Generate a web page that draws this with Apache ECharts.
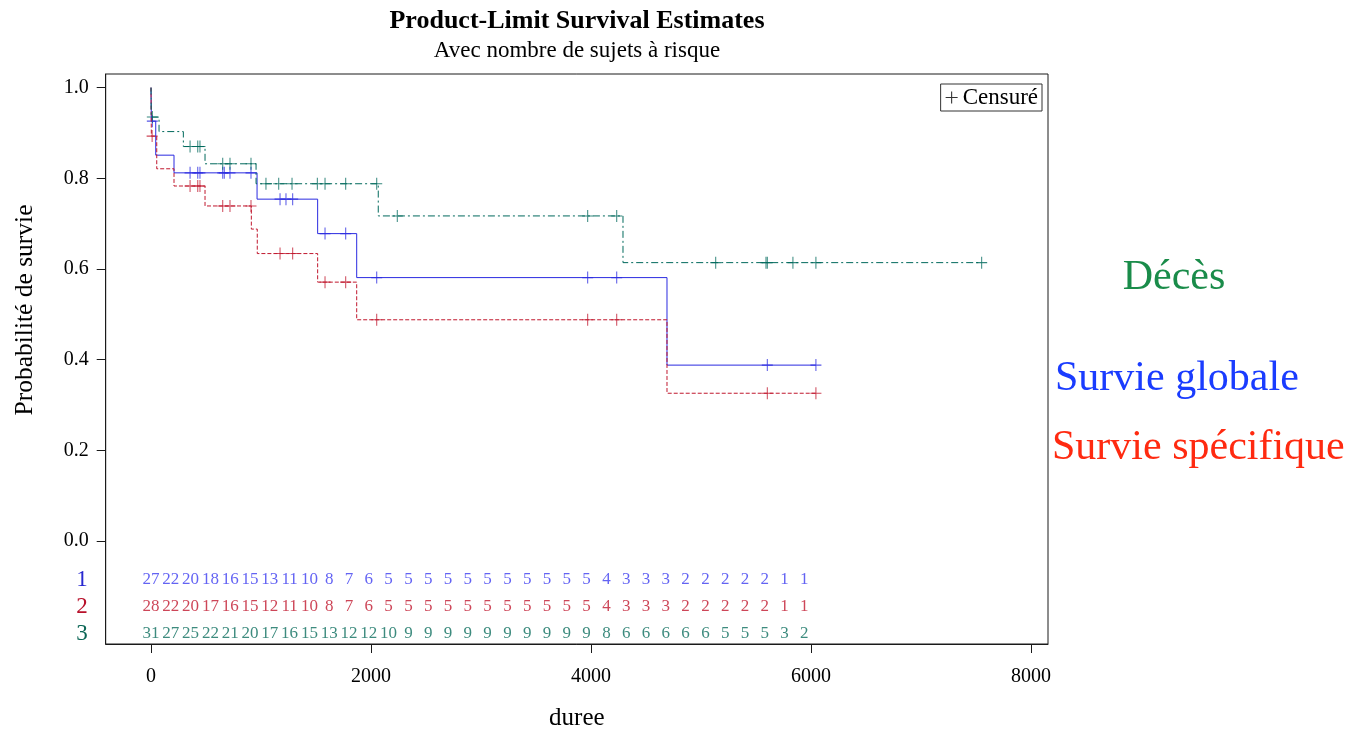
<!DOCTYPE html>
<html><head><meta charset="utf-8">
<script src="https://cdn.jsdelivr.net/npm/echarts@6/dist/echarts.min.js"></script>
<style>html,body{margin:0;padding:0;background:#fff}#c{width:1365px;height:736px}</style>
</head><body><div id="c"></div>
<script>
// ---- data ----
const xTicks = [0, 2000, 4000, 6000, 8000];
const yTicks = [0, 0.2, 0.4, 0.6, 0.8, 1.0];
const groupLabels = ['1', '2', '3'];
const riskTimes = [0,180,360,540,720,900,1080,1260,1440,1620,1800,1980,2160,2340,2520,2700,2880,3060,3240,3420,3600,3780,3960,4140,4320,4500,4680,4860,5040,5220,5400,5580,5760,5940];
const risk1 = [27,22,20,18,16,15,13,11,10,8,7,6,5,5,5,5,5,5,5,5,5,5,5,4,3,3,3,2,2,2,2,2,1,1];
const risk2 = [28,22,20,17,16,15,12,11,10,8,7,6,5,5,5,5,5,5,5,5,5,5,5,4,3,3,3,2,2,2,2,2,1,1];
const risk3 = [31,27,25,22,21,20,17,16,15,13,12,12,10,9,9,9,9,9,9,9,9,9,9,8,6,6,6,6,6,5,5,5,3,2];

// Survie globale (group 1)
const globaleTimes = [0, 3, 43, 209, 964, 1515, 1870, 4691, 6045];
const globaleSurv  = [1, 0.926, 0.851, 0.812, 0.754, 0.678, 0.581, 0.388, 0.388];
const globaleCens  = [12, 355, 425, 445, 652, 666, 718, 909, 1173, 1227, 1288, 1582, 1770, 2052, 3970, 4234, 5603, 6045];
// Survie spécifique (group 2)
const specTimes = [0, 3, 52, 209, 491, 912, 966, 1515, 1870, 4691, 6045];
const specSurv  = [1, 0.893, 0.821, 0.783, 0.739, 0.688, 0.634, 0.571, 0.488, 0.326, 0.326];
const specCens  = [10, 355, 425, 445, 652, 718, 909, 1173, 1288, 1582, 1770, 2052, 3970, 4234, 5603, 6045];
// Décès (group 3)
const decesTimes = [0, 2, 73, 294, 491, 955, 2066, 4291, 7552];
const decesSurv  = [1, 0.935, 0.903, 0.870, 0.832, 0.788, 0.717, 0.614, 0.614];
const decesCens  = [12, 355, 425, 445, 652, 718, 909, 1045, 1161, 1282, 1512, 1582, 1770, 2052, 2239, 3970, 4234, 5134, 5591, 5603, 5836, 6045, 7552];

// ---- styling ----
const FONT = '"Liberation Serif", "Times New Roman", serif';
const BLUE = '#2a2ae0', RED = '#c0182e', GREEN = '#00695c';
const RISK_COL = {'1': '#3c3cf0', '2': '#c0182e', '3': '#0d6e5e'};
const LAB_COL = {'1': '#2828d0', '2': '#b8102a', '3': '#0b6655'};
const PLUS = 'path://M5,0h1v5h5v1h-5v5h-1v-5h-5v-1h5z';

function stepValue(times, surv, t) {
  let v = surv[0];
  for (let i = 0; i < times.length; i++) { if (times[i] <= t) v = surv[i]; }
  return v;
}
const zip = (a, b) => a.map((v, i) => [v, b[i]]);
const censPts = (c, t, s) => c.map(x => [x, stepValue(t, s, x)]);

const XMIN = -412, XMAX = 8155;

const chart = echarts.init(document.getElementById('c'), null, {renderer: 'canvas'});
const curves = [
  {name: 'Survie globale', t: globaleTimes, s: globaleSurv, c: globaleCens, color: BLUE, dash: 'solid'},
  {name: 'Survie spécifique', t: specTimes, s: specSurv, c: specCens, color: RED, dash: [4, 2]},
  {name: 'Décès', t: decesTimes, s: decesSurv, c: decesCens, color: GREEN, dash: [7, 3, 2, 3]}
];
const series = [];
curves.forEach(cv => {
  series.push({
    type: 'line', name: cv.name, xAxisIndex: 0, yAxisIndex: 0, step: 'end',
    data: zip(cv.t, cv.s), symbol: 'none', silent: true,
    lineStyle: {color: cv.color, width: 1, type: cv.dash}
  });
});
curves.forEach(cv => {
  series.push({
    type: 'scatter', name: cv.name + ' censure', xAxisIndex: 0, yAxisIndex: 0,
    data: censPts(cv.c, cv.t, cv.s), symbol: PLUS, symbolSize: [11, 12],
    itemStyle: {color: cv.color}, silent: true
  });
});
[risk1, risk2, risk3].forEach((r, gi) => {
  const g = groupLabels[gi];
  series.push({
    type: 'scatter', name: 'risk' + g, xAxisIndex: 1, yAxisIndex: 1,
    data: riskTimes.map((t, i) => [t, g, r[i]]),
    symbolSize: 1, itemStyle: {color: 'rgba(0,0,0,0)'}, silent: true,
    label: {show: true, position: 'inside', formatter: p => String(p.value[2]),
      color: RISK_COL[g], fontSize: 17, fontFamily: FONT}
  });
});
series.push({type: 'scatter', name: 'Censuré', xAxisIndex: 0, yAxisIndex: 0, data: [], itemStyle: {color: '#000'}});

chart.setOption({
  animation: false,
  backgroundColor: '#fff',
  grid: [
    {left: 105.7, right: 317, top: 74, bottom: 92, show: true, borderColor: '#1a1a1a', borderWidth: 1, outerBoundsMode: 'none', containLabel: false},
    {left: 105.7, right: 317, top: 566, height: 81, outerBoundsMode: 'none', containLabel: false}
  ],
  xAxis: [
    {type: 'value', gridIndex: 0, min: XMIN, max: XMAX,
     name: 'duree', nameLocation: 'middle', nameGap: 62,
     nameTextStyle: {fontSize: 25, fontFamily: FONT, color: '#000'},
     axisLine: {show: true, onZero: false, lineStyle: {color: '#1a1a1a'}},
     axisTick: {show: true, length: 9, customValues: xTicks, lineStyle: {color: '#1a1a1a'}},
     axisLabel: {customValues: xTicks, formatter: v => String(v), fontSize: 20, fontFamily: FONT, color: '#000', margin: 23},
     splitLine: {show: false}},
    {type: 'value', gridIndex: 1, min: XMIN, max: XMAX, show: false}
  ],
  yAxis: [
    {type: 'value', gridIndex: 0, min: -0.227, max: 1.030,
     axisLine: {show: true, onZero: false, lineStyle: {color: '#1a1a1a'}},
     axisTick: {show: true, length: 9, customValues: yTicks, lineStyle: {color: '#1a1a1a'}},
     axisLabel: {customValues: yTicks, formatter: v => Number(v).toFixed(1), fontSize: 20, fontFamily: FONT, color: '#000', margin: 17},
     splitLine: {show: false}},
    {type: 'category', gridIndex: 1, data: ['3', '2', '1'],
     axisLine: {show: false}, axisTick: {show: false}, splitLine: {show: false},
     axisLabel: {interval: 0, fontSize: 23, fontFamily: FONT, margin: 18, color: v => LAB_COL[v]}}
  ],
  legend: {
    data: [{name: 'Censuré', icon: PLUS}],
    right: 323, top: 84, padding: [2, 4, 2, 5],
    borderColor: '#333', borderWidth: 1, borderRadius: 0,
    itemWidth: 12, itemHeight: 13, selectedMode: false,
    textStyle: {fontSize: 23, fontFamily: FONT, color: '#000'}
  },
  graphic: [
    {type: 'text', x: 577, y: 21, style: {text: 'Product-Limit Survival Estimates', font: 'bold 26px ' + FONT, fill: '#000', textAlign: 'center', textVerticalAlign: 'middle'}},
    {type: 'text', x: 577, y: 51, style: {text: 'Avec nombre de sujets à risque', font: '23px ' + FONT, fill: '#000', textAlign: 'center', textVerticalAlign: 'middle'}},
    {type: 'text', x: 25, y: 310, rotation: Math.PI / 2, style: {text: 'Probabilité de survie', font: '25.5px ' + FONT, fill: '#000', textAlign: 'center', textVerticalAlign: 'middle'}},
    {type: 'text', x: 1174, y: 278, style: {text: 'Décès', font: '42px ' + FONT, fill: '#1a8c4a', textAlign: 'center', textVerticalAlign: 'middle'}},
    {type: 'text', x: 1055, y: 379, style: {text: 'Survie globale', font: '42px ' + FONT, fill: '#1a3cff', textAlign: 'left', textVerticalAlign: 'middle'}},
    {type: 'text', x: 1052, y: 448, style: {text: 'Survie spécifique', font: '42px ' + FONT, fill: '#ff2a10', textAlign: 'left', textVerticalAlign: 'middle'}}
  ],
  series: series
});
</script>
</body></html>
